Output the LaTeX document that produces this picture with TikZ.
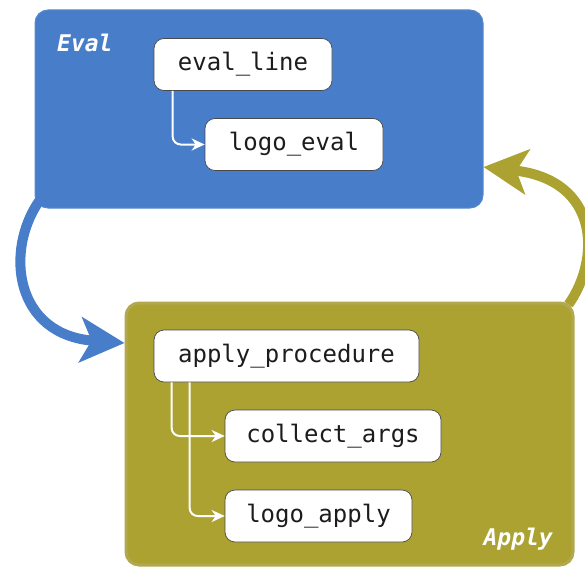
\documentclass[tikz,border=0pt]{standalone}
\usepackage{fontspec}
\setmonofont{DejaVu Sans Mono}
\usetikzlibrary{arrows.meta}
\definecolor{evalblue}{RGB}{71,125,201}
\definecolor{evaledge}{RGB}{88,138,208}
\definecolor{applyolive}{RGB}{172,162,50}
\definecolor{applyedge}{RGB}{178,168,78}
\definecolor{ink}{RGB}{28,28,28}
\begin{document}
\begin{tikzpicture}[x=1pt,y=-1pt,
  bigbox/.style={rounded corners=13pt, inner sep=0pt},
  fn/.style={draw=ink!80, line width=0.7pt, fill=white, rounded corners=10pt,
    minimum height=52pt, inner sep=0pt, text=ink,
    font=\ttfamily\fontsize{24}{28}\selectfont},
  lbl/.style={text=white, inner sep=0pt,
    font=\ttfamily\bfseries\itshape\fontsize{23}{28}\selectfont},
  sub/.style={draw=white, line width=2pt, rounded corners=8pt,
    -{Stealth[length=13pt,width=12pt,inset=4pt]}},
  cycle/.style={line width=10pt,
    -{Stealth[length=44pt,width=45pt,inset=11pt]}}]
\useasboundingbox (0,0) rectangle (585,567);
% containers
\node[bigbox, fill=evalblue, draw=evaledge, line width=1pt,
  minimum width=448pt, minimum height=198pt] (evalbox) at (259,109) {};
\node[bigbox, fill=applyolive, draw=applyedge, line width=3pt,
  minimum width=447pt, minimum height=262pt] (applybox) at (349.5,434) {};
% cycle arrows
\draw[cycle, draw=evalblue]
  ([shift={(5,-8)}]evalbox.south west)
  .. controls +(-35,50) and +(-110,-8) .. ([shift={(0,-91)}]applybox.west);
\draw[cycle, draw=applyolive]
  ([shift={(-6,3)}]applybox.north east)
  .. controls +(32,-45) and +(117,13) .. ([shift={(0,58)}]evalbox.east);
% labels
\node[lbl, anchor=base west] (evallbl) at (57,52) {Eval};
\node[lbl, anchor=base east] (applylbl) at (553,545) {Apply};
% functions
\node[fn, minimum width=178pt] (evalline) at (243,64.5) {eval\_line};
\node[fn, minimum width=178pt] (logoeval) at (294,144.5) {logo\_eval};
\node[fn, minimum width=265pt] (applyproc) at (286.5,356) {apply\_procedure};
\node[fn, minimum width=216pt] (collect) at (333,436) {collect\_args};
\node[fn, minimum width=187pt] (logoapply) at (318.5,516) {logo\_apply};
% calls
\draw[sub] ([xshift=19pt]evalline.south west) |- (logoeval.west);
\draw[sub] ([xshift=18pt]applyproc.south west) |- (collect.west);
\draw[sub] ([xshift=36pt]applyproc.south west) |- (logoapply.west);
\end{tikzpicture}
\end{document}
